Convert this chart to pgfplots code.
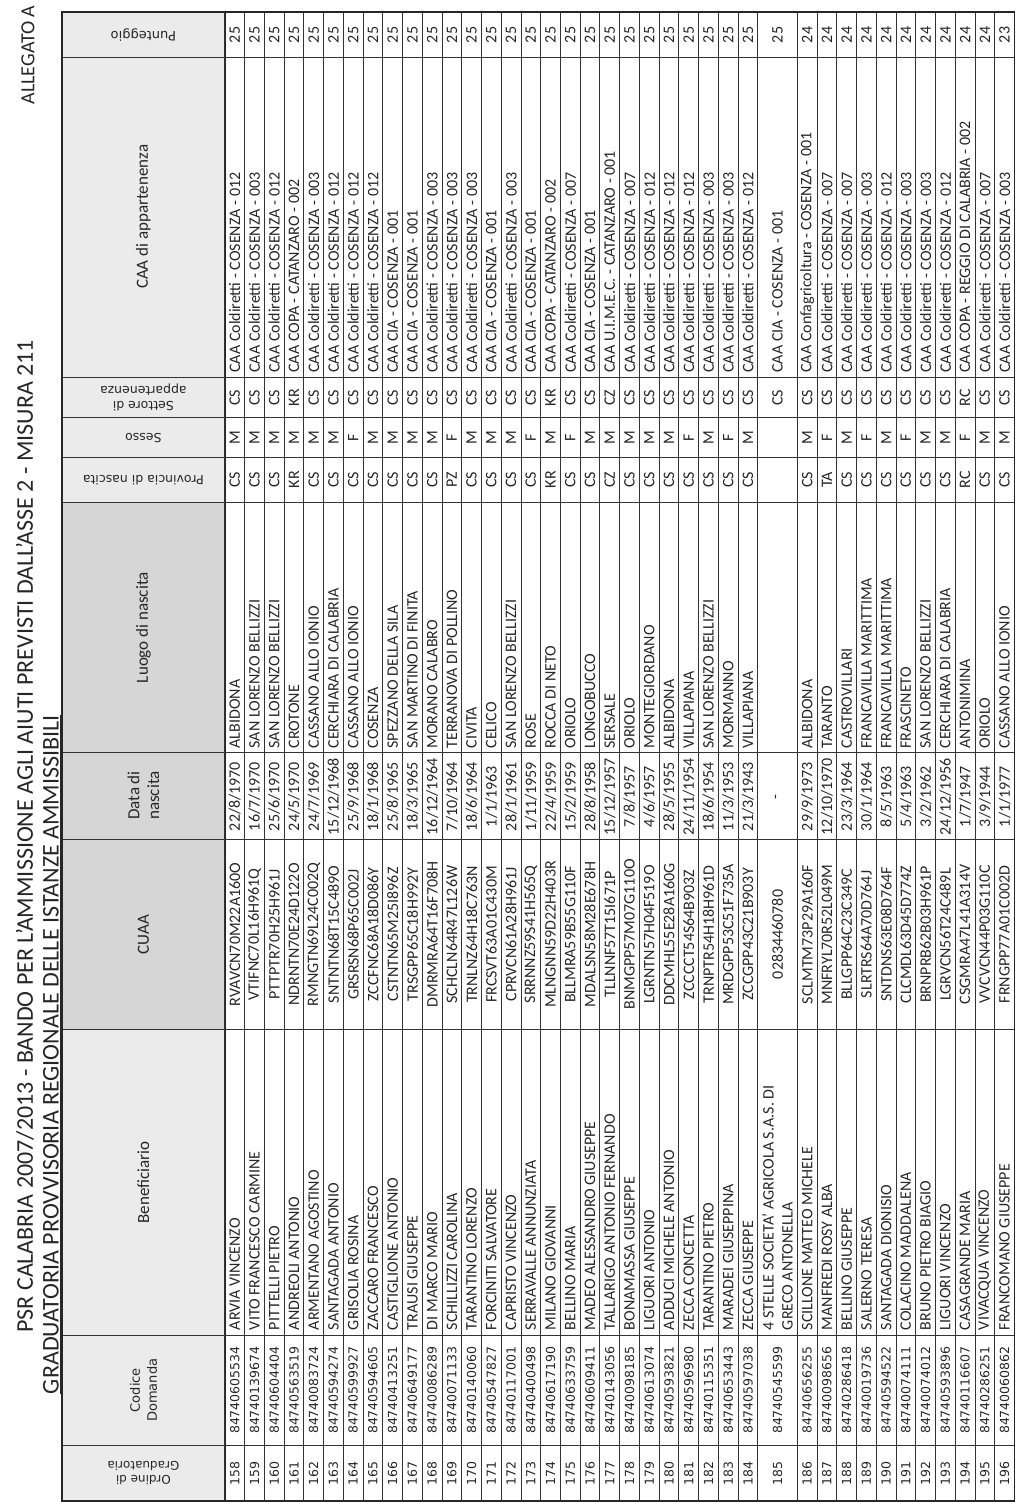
\documentclass[border=0pt]{standalone}
\usepackage{fontspec}
\setmainfont{Carlito}
\newfontfamily\verd{DejaVu Sans}
\usepackage{pgfplots}
\usepackage{pgfplotstable}
\pgfplotsset{compat=1.18}

% one line per beneficiary; u = centre of the row strip in row units
\pgfplotstableread[col sep=semicolon]{
u;ord;cod;ben;cuaa;data;luogo;prov;sesso;sett;caa;punt
0.5;158;84740605534;ARVIA VINCENZO;RVAVCN70M22A160O;22/8/1970;ALBIDONA;CS;M;CS;CAA Coldiretti - COSENZA - 012;25
1.5;159;84740139674;VITO FRANCESCO CARMINE;VTIFNC70L16H961Q;16/7/1970;SAN LORENZO BELLIZZI;CS;M;CS;CAA Coldiretti - COSENZA - 003;25
2.5;160;84740604404;PITTELLI PIETRO;PTTPTR70H25H961J;25/6/1970;SAN LORENZO BELLIZZI;CS;M;CS;CAA Coldiretti - COSENZA - 012;25
3.5;161;84740563519;ANDREOLI ANTONIO;NDRNTN70E24D122O;24/5/1970;CROTONE;KR;M;KR;CAA COPA - CATANZARO - 002;25
4.5;162;84740083724;ARMENTANO AGOSTINO;RMNGTN69L24C002Q;24/7/1969;CASSANO ALLO IONIO;CS;M;CS;CAA Coldiretti - COSENZA - 003;25
5.5;163;84740594274;SANTAGADA ANTONIO;SNTNTN68T15C489O;15/12/1968;CERCHIARA DI CALABRIA;CS;M;CS;CAA Coldiretti - COSENZA - 012;25
6.5;164;84740599927;GRISOLIA ROSINA;GRSRSN68P65C002J;25/9/1968;CASSANO ALLO IONIO;CS;F;CS;CAA Coldiretti - COSENZA - 012;25
7.5;165;84740594605;ZACCARO FRANCESCO;ZCCFNC68A18D086Y;18/1/1968;COSENZA;CS;M;CS;CAA Coldiretti - COSENZA - 012;25
8.5;166;84740413251;CASTIGLIONE ANTONIO;CSTNTN65M25I896Z;25/8/1965;SPEZZANO DELLA SILA;CS;M;CS;CAA CIA - COSENZA - 001;25
9.5;167;84740649177;TRAUSI GIUSEPPE;TRSGPP65C18H992Y;18/3/1965;SAN MARTINO DI FINITA;CS;M;CS;CAA CIA - COSENZA - 001;25
10.5;168;84740086289;DI MARCO MARIO;DMRMRA64T16F708H;16/12/1964;MORANO CALABRO;CS;M;CS;CAA Coldiretti - COSENZA - 003;25
11.5;169;84740071133;SCHILLIZZI CAROLINA;SCHCLN64R47L126W;7/10/1964;TERRANOVA DI POLLINO;PZ;F;CS;CAA Coldiretti - COSENZA - 003;25
12.5;170;84740140060;TARANTINO LORENZO;TRNLNZ64H18C763N;18/6/1964;CIVITA;CS;M;CS;CAA Coldiretti - COSENZA - 003;25
13.5;171;84740547827;FORCINITI SALVATORE;FRCSVT63A01C430M;1/1/1963;CELICO;CS;M;CS;CAA CIA - COSENZA - 001;25
14.5;172;84740117001;CAPRISTO VINCENZO;CPRVCN61A28H961J;28/1/1961;SAN LORENZO BELLIZZI;CS;M;CS;CAA Coldiretti - COSENZA - 003;25
15.5;173;84740400498;SERRAVALLE ANNUNZIATA;SRRNNZ59S41H565Q;1/11/1959;ROSE;CS;F;CS;CAA CIA - COSENZA - 001;25
16.5;174;84740617190;MILANO GIOVANNI;MLNGNN59D22H403R;22/4/1959;ROCCA DI NETO;KR;M;KR;CAA COPA - CATANZARO - 002;25
17.5;175;84740633759;BELLINO MARIA;BLLMRA59B55G110F;15/2/1959;ORIOLO;CS;F;CS;CAA Coldiretti - COSENZA - 007;25
18.5;176;84740609411;MADEO ALESSANDRO GIUSEPPE;MDALSN58M28E678H;28/8/1958;LONGOBUCCO;CS;M;CS;CAA CIA - COSENZA - 001;25
19.5;177;84740143056;TALLARIGO ANTONIO FERNANDO;TLLNNF57T15I671P;15/12/1957;SERSALE;CZ;M;CZ;CAA U.I.M.E.C. - CATANZARO - 001;25
20.5;178;84740098185;BONAMASSA GIUSEPPE;BNMGPP57M07G110O;7/8/1957;ORIOLO;CS;M;CS;CAA Coldiretti - COSENZA - 007;25
21.5;179;84740613074;LIGUORI ANTONIO;LGRNTN57H04F519O;4/6/1957;MONTEGIORDANO;CS;M;CS;CAA Coldiretti - COSENZA - 012;25
22.5;180;84740593821;ADDUCI MICHELE ANTONIO;DDCMHL55E28A160G;28/5/1955;ALBIDONA;CS;M;CS;CAA Coldiretti - COSENZA - 012;25
23.5;181;84740596980;ZECCA CONCETTA;ZCCCCT54S64B903Z;24/11/1954;VILLAPIANA;CS;F;CS;CAA Coldiretti - COSENZA - 012;25
24.5;182;84740115351;TARANTINO PIETRO;TRNPTR54H18H961D;18/6/1954;SAN LORENZO BELLIZZI;CS;M;CS;CAA Coldiretti - COSENZA - 003;25
25.5;183;84740653443;MARADEI GIUSEPPINA;MRDGPP53C51F735A;11/3/1953;MORMANNO;CS;F;CS;CAA Coldiretti - COSENZA - 003;25
26.5;184;84740597038;ZECCA GIUSEPPE;ZCCGPP43C21B903Y;21/3/1943;VILLAPIANA;CS;M;CS;CAA Coldiretti - COSENZA - 012;25
28;185;84740545599;;02834460780;-;;;;CS;CAA CIA - COSENZA - 001;25
29.5;186;84740656255;SCILLONE MATTEO MICHELE;SCLMTM73P29A160F;29/9/1973;ALBIDONA;CS;M;CS;CAA Confagricoltura - COSENZA - 001;24
30.5;187;84740098656;MANFREDI ROSY ALBA;MNFRYL70R52L049M;12/10/1970;TARANTO;TA;F;CS;CAA Coldiretti - COSENZA - 007;24
31.5;188;84740286418;BELLINO GIUSEPPE;BLLGPP64C23C349C;23/3/1964;CASTROVILLARI;CS;M;CS;CAA Coldiretti - COSENZA - 007;24
32.5;189;84740019736;SALERNO TERESA;SLRTRS64A70D764J;30/1/1964;FRANCAVILLA MARITTIMA;CS;F;CS;CAA Coldiretti - COSENZA - 003;24
33.5;190;84740594522;SANTAGADA DIONISIO;SNTDNS63E08D764F;8/5/1963;FRANCAVILLA MARITTIMA;CS;M;CS;CAA Coldiretti - COSENZA - 012;24
34.5;191;84740074111;COLACINO MADDALENA;CLCMDL63D45D774Z;5/4/1963;FRASCINETO;CS;F;CS;CAA Coldiretti - COSENZA - 003;24
35.5;192;84740074012;BRUNO PIETRO BIAGIO;BRNPRB62B03H961P;3/2/1962;SAN LORENZO BELLIZZI;CS;M;CS;CAA Coldiretti - COSENZA - 003;24
36.5;193;84740593896;LIGUORI VINCENZO;LGRVCN56T24C489L;24/12/1956;CERCHIARA DI CALABRIA;CS;M;CS;CAA Coldiretti - COSENZA - 012;24
37.5;194;84740116607;CASAGRANDE MARIA;CSGMRA47L41A314V;1/7/1947;ANTONIMINA;RC;F;RC;CAA COPA - REGGIO DI CALABRIA - 002;24
38.5;195;84740286251;VIVACQUA VINCENZO;VVCVCN44P03G110C;3/9/1944;ORIOLO;CS;M;CS;CAA Coldiretti - COSENZA - 007;24
39.5;196;84740060862;FRANCOMANO GIUSEPPE;FRNGPP77A01C002D;1/1/1977;CASSANO ALLO IONIO;CS;M;CS;CAA Coldiretti - COSENZA - 003;23
}\rows

\pgfplotsset{
  txt/.style={draw=none, nodes near coords={\pgfplotspointmeta},
    point meta=explicit symbolic,
    every node near coord/.append style={rotate=90, inner sep=0pt,
      text=black!85, font=\fontsize{16}{18}\selectfont, anchor=#1}},
  txt/.default=center,
}

\begin{document}
\begin{tikzpicture}
\begin{axis}[
  width=953pt, height=1490pt, scale only axis,
  xmin=62, xmax=1015, ymin=12, ymax=1502,
  y dir=reverse, clip=false, axis on top,
  axis line style={line width=1.5pt, black!85},
  xtick={225,244.75,...,758.25,797.75,817.5,...,995.25},
  ytick={57,378,418,458,503,753,840,1030,1336,1446},
  xticklabels={}, yticklabels={}, tick style={draw=none},
  grid=major, major grid style={line width=0.9pt, black!80},
]
  % header strip
  \addplot[fill=gray!16, draw=none] coordinates {(62,12) (225,12) (225,1502) (62,1502)} -- cycle;
  \addplot[fill=gray!32, draw=none] coordinates {(62,503) (225,503) (225,1030) (62,1030)} -- cycle;
  \addplot[draw=black!85, line width=2pt] coordinates {(225,12) (225,1502)};

  % rows
  \addplot[txt] table[x expr=225+19.75*\thisrow{u}, y expr=35, meta=punt]{\rows};
  \addplot[txt=west] table[x expr=225+19.75*\thisrow{u}, y expr=373, meta=caa]{\rows};
  \addplot[txt] table[x expr=225+19.75*\thisrow{u}, y expr=398, meta=sett]{\rows};
  \addplot[txt] table[x expr=225+19.75*\thisrow{u}, y expr=438, meta=sesso]{\rows};
  \addplot[txt] table[x expr=225+19.75*\thisrow{u}, y expr=480, meta=prov]{\rows};
  \addplot[txt=west] table[x expr=225+19.75*\thisrow{u}, y expr=749, meta=luogo]{\rows};
  \addplot[txt] table[x expr=225+19.75*\thisrow{u}, y expr=797, meta=data]{\rows};
  \addplot[txt] table[x expr=225+19.75*\thisrow{u}, y expr=935, meta=cuaa]{\rows};
  \addplot[txt=west] table[x expr=225+19.75*\thisrow{u}, y expr=1331, meta=ben]{\rows};
  \addplot[txt, every node near coord/.append style={font=\verd\fontsize{12.5}{14}\selectfont}]
    table[x expr=225+19.75*\thisrow{u}, y expr=1391, meta=cod]{\rows};
  \addplot[txt, every node near coord/.append style={font=\verd\fontsize{12.5}{14}\selectfont}]
    table[x expr=225+19.75*\thisrow{u}, y expr=1474, meta=ord]{\rows};
  \node[rotate=90, anchor=west, align=left, inner sep=0pt, text=black!85,
        font=\fontsize{16}{19}\selectfont] at (axis cs:778,1331)
        {4 STELLE SOCIETA' AGRICOLA S.A.S. DI\\GRECO ANTONELLA};

  % header labels
  \begin{scope}[every node/.style={text=black!85}]
  \node[rotate=180, font=\verd\fontsize{13}{15}\selectfont] at (axis cs:143.5,35) {Punteggio};
  \node[rotate=90, font=\fontsize{17}{20}\selectfont] at (axis cs:143.5,217) {CAA di appartenenza};
  \node[rotate=180, align=center, font=\verd\fontsize{12.5}{15}\selectfont] at (axis cs:143.5,398) {Settore di\\appartenenza};
  \node[rotate=180, font=\verd\fontsize{12.5}{15}\selectfont] at (axis cs:143.5,438) {Sesso};
  \node[rotate=180, font=\verd\fontsize{12.5}{15}\selectfont] at (axis cs:143.5,480) {Provincia di nascita};
  \node[rotate=90, font=\fontsize{17}{20}\selectfont] at (axis cs:143.5,628) {Luogo di nascita};
  \node[rotate=90, align=center, font=\fontsize{17}{20}\selectfont] at (axis cs:143.5,796) {Data di\\nascita};
  \node[rotate=90, font=\fontsize{17}{20}\selectfont] at (axis cs:143.5,935) {CUAA};
  \node[rotate=90, font=\fontsize{17}{20}\selectfont] at (axis cs:143.5,1183) {Beneficiario};
  \node[rotate=90, align=center, font=\verd\fontsize{13}{17}\selectfont] at (axis cs:143.5,1391) {Codice\\Domanda};
  \node[rotate=180, align=center, font=\verd\fontsize{12}{14}\selectfont] at (axis cs:143.5,1474) {Ordine di\\Graduatoria};

  % titles
  \node[rotate=90, anchor=east, inner sep=0pt, font=\fontsize{24}{26}\selectfont] at (axis cs:25,340)
    {PSR CALABRIA 2007/2013 - BANDO PER L'AMMISSIONE AGLI AIUTI PREVISTI DALL'ASSE 2 - MISURA 211};
  \node[rotate=90, anchor=west, inner sep=0pt, font=\fontsize{24}{26}\selectfont] at (axis cs:52,1395)
    {\underline{GRADUATORIA PROVVISORIA REGIONALE DELLE ISTANZE AMMISSIBILI}};
  \node[rotate=90, font=\fontsize{20}{24}\selectfont] at (axis cs:28,55) {ALLEGATO A};
  \end{scope}
  \path (axis cs:0,0) (axis cs:1024,1508);
\end{axis}
\end{tikzpicture}
\end{document}
